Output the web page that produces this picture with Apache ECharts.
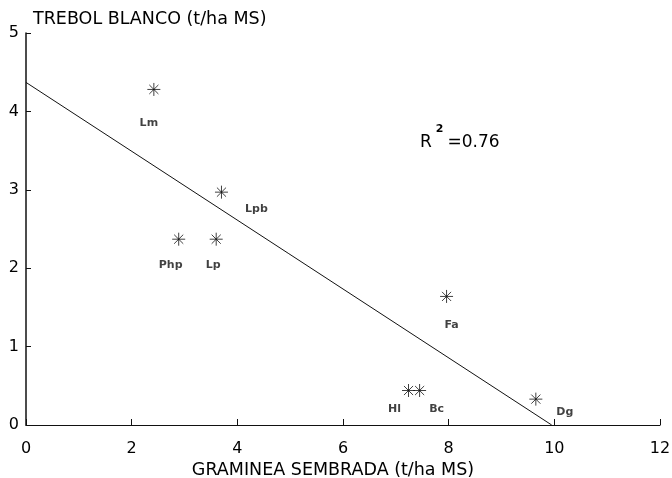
<!DOCTYPE html>
<html>
<head>
<meta charset="utf-8">
<script src="https://cdn.jsdelivr.net/npm/echarts@6/dist/echarts.min.js"></script>
<style>
  html, body { margin: 0; padding: 0; background: #fff; }
  #chart { width: 672px; height: 478px; }
</style>
</head>
<body>
<div id="chart"></div>
<script>
// data
const names = ['Lm', 'Lpb', 'Php', 'Lp', 'Fa', 'Hl', 'Bc', 'Dg'];
const graminea = [2.42, 3.70, 2.89, 3.60, 7.96, 7.24, 7.45, 9.65];
const trebol = [4.28, 2.97, 2.37, 2.37, 1.64, 0.44, 0.44, 0.33];
// fitted line, end points
const fitX = [0, 9.95];
const fitY = [4.37, 0];
const xTicks = [0, 2, 4, 6, 8, 10, 12];
const yTicks = [0, 1, 2, 3, 4, 5];

// where each label sits relative to its star (px)
const labelOffset = {
  Lm: [-5, 34], Lpb: [35, 17], Php: [-8, 26], Lp: [-3, 26],
  Fa: [5, 29], Hl: [-14, 19], Bc: [17, 19], Dg: [29, 13],
};

const font = '"DejaVu Sans", Arial, sans-serif';
const star = 'path://M0,-10L0,10M-10,0L10,0M-7,-7L7,7M-7,7L7,-7';

const chart = echarts.init(document.getElementById('chart'));

let points = names.map((n, i) => ({
  value: [graminea[i], trebol[i]],
  name: n,
  label: { offset: labelOffset[n] },
}));

let option = {
  backgroundColor: '#fff',
  animation: false,
  title: {
    text: 'TREBOL BLANCO (t/ha MS)',
    left: 28,
    top: 5,
    textStyle: { fontFamily: font, fontSize: 17.5, fontWeight: 'normal', color: '#000' },
  },
  grid: { left: 26, right: 12, top: 33, bottom: 53, outerBoundsMode: 'none', containLabel: false },
  xAxis: {
    type: 'value',
    min: 0,
    max: 12,
    interval: 2,
    name: 'GRAMINEA SEMBRADA (t/ha MS)',
    nameLocation: 'middle',
    nameGap: 35,
    nameTextStyle: { fontFamily: font, fontSize: 17.5, color: '#000', padding: [0, 20, 0, 0] },
    axisLine: { lineStyle: { color: '#111', width: 1.2 } },
    axisTick: { inside: true, length: 6, lineStyle: { color: '#111' } },
    axisLabel: {
      fontFamily: font, fontSize: 16, color: '#000', margin: 16,
      formatter: (v) => (xTicks.includes(v) ? String(v) : ''),
    },
    splitLine: { show: false },
  },
  yAxis: {
    type: 'value',
    min: 0,
    max: 5,
    interval: 1,
    axisLine: { show: true, lineStyle: { color: '#111', width: 1.5 } },
    axisTick: { show: true, inside: true, length: 5, lineStyle: { color: '#111' } },
    axisLabel: {
      fontFamily: font, fontSize: 16, color: '#000', margin: 7,
      formatter: (v) => (yTicks.includes(v) ? String(v) : ''),
    },
    splitLine: { show: false },
  },
  series: [
    {
      type: 'line',
      data: fitX.map((x, i) => [x, fitY[i]]),
      symbol: 'none',
      lineStyle: { color: '#111', width: 1 },
      silent: true,
    },
    {
      type: 'scatter',
      data: points,
      symbol: star,
      symbolSize: 13,
      itemStyle: { color: 'transparent', borderColor: '#111', borderWidth: 1 },
      label: {
        show: true,
        position: 'inside',
        formatter: '{b}',
        fontFamily: font,
        fontSize: 11,
        fontWeight: 'bold',
        color: '#111',
      },
    },
  ],
  graphic: [
    {
      type: 'text',
      left: 420,
      top: 124,
      style: {
        text: '{a|R}{s|2}{a|=0.76}',
        rich: {
          a: { fontFamily: font, fontSize: 17, color: '#000', verticalAlign: 'bottom', padding: [10, 0, 0, 0] },
          s: { fontFamily: font, fontSize: 11, fontWeight: 'bold', color: '#000', verticalAlign: 'top', padding: [0, 4, 10, 4] },
        },
      },
    },
  ],
};

chart.setOption(option);
</script>
</body>
</html>
